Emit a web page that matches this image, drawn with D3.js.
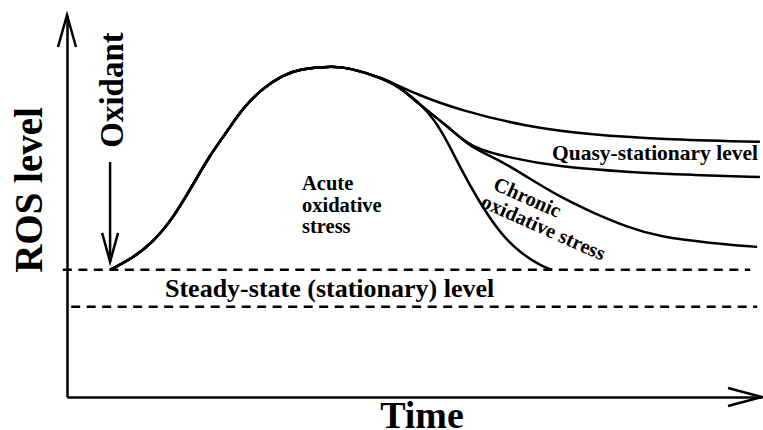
<!DOCTYPE html>
<html lang="en">
<head>
  <meta charset="UTF-8">
  <title>ROS level</title>
  <style>
    body { margin: 0; background: #fff; }
    svg { display: block; }
    text { font-family: "Liberation Serif", "Times New Roman", serif; font-weight: bold; fill: #000; }
  </style>
</head>
<body>
  <svg id="chart" width="763" height="430"></svg>
<script src="https://cdn.jsdelivr.net/npm/d3@7"></script>
<script>
  // time (0-100) vs ROS level (0-100)
  let rise = [[6.2, 33.3], [9.5, 36.4], [12.4, 40.6], [15.3, 46.9], [18.1, 55.5], [20.6, 63.4],
              [23.0, 69.4], [25.3, 75.7], [28.2, 80.9], [31.1, 84.3], [33.5, 85.9], [37.8, 86.6],
              [40.7, 86.2], [45.8, 83.2]]
  let quasyUpper = [[50.4, 79.1], [56.5, 75.1], [66.2, 70.7], [75.7, 68.6], [85.3, 67.5], [99.7, 66.8]]
  let middle = [[47.9, 81.2], [50.4, 77.0], [55.1, 70.4], [58.0, 65.4]]
  let quasyLower = [[63.7, 62.6], [70.9, 60.2], [80.6, 58.9], [90.1, 58.1], [99.7, 57.6]]
  let chronic = [[62.3, 62.0], [66.2, 57.6], [70.9, 52.4], [75.7, 48.2], [80.6, 44.5], [85.3, 41.9],
                 [92.5, 40.3], [99.3, 39.3]]
  let acute = [[47.9, 80.9], [51.2, 76.4], [54.1, 69.4], [56.5, 60.2], [59.4, 50.8], [62.3, 42.9],
               [65.2, 37.7], [68.5, 34.0], [69.8, 33.3]]
  let steadyLevels = [{y: 33.3, x0: -0.6, x1: 98.3}, {y: 23.6, x0: 0.6, x1: 99.3}]

  let svg = d3.select("#chart")
  svg.append("rect").attr("width", 763).attr("height", 430).attr("fill", "#fff")

  let x = d3.scaleLinear().domain([0, 100]).range([67, 762])
  let y = d3.scaleLinear().domain([0, 100]).range([397, 15])

  // axes without ticks, just the lines
  svg.append("g")
     .attr("transform", `translate(0,${y(0)})`)
     .call(d3.axisBottom(x).tickValues([]).tickSizeOuter(0))
     .select(".domain").attr("stroke-width", 2.5)
  svg.append("g")
     .attr("transform", `translate(${x(0)},0)`)
     .call(d3.axisLeft(y).tickValues([]).tickSizeOuter(0))
     .select(".domain").attr("stroke-width", 2.5)

  let arrows = svg.append("g").attr("fill", "none").attr("stroke", "#000").attr("stroke-width", 2.5)
  arrows.append("path").attr("d", `M${x(0) - 9},${y(100) + 32}L${x(0)},${y(100)}L${x(0) + 9},${y(100) + 32}`)
  arrows.append("path").attr("d", `M${x(100) - 34},${y(0) - 9}L${x(100)},${y(0)}L${x(100) - 34},${y(0) + 9}`)

  // oxidant arrow
  arrows.append("path").attr("d", `M${x(6.2)},162V${y(33.3) - 8}`)
  arrows.append("path").attr("d", `M${x(6.2) - 8},${y(33.3) - 37}L${x(6.2)},${y(33.3) - 8}L${x(6.2) + 8},${y(33.3) - 37}`)

  // dashed levels
  svg.append("g").selectAll("line")
     .data(steadyLevels)
     .enter()
     .append("line")
     .attr("x1", d => x(d.x0))
     .attr("x2", d => x(d.x1))
     .attr("y1", d => y(d.y))
     .attr("y2", d => y(d.y))
     .attr("stroke", "#000")
     .attr("stroke-width", 2.5)
     .attr("stroke-dasharray", "9,6.5")

  let line = d3.line().x(d => x(d[0])).y(d => y(d[1])).curve(d3.curveBasis)
  let curves = [
    rise.concat(quasyUpper),
    rise.concat(middle, quasyLower),
    rise.concat(middle, chronic),
    rise.concat(acute)
  ]
  svg.append("g").selectAll("path")
     .data(curves)
     .enter()
     .append("path")
     .attr("d", line)
     .attr("fill", "none")
     .attr("stroke", "#000")
     .attr("stroke-width", 2.5)

  // labels
  svg.append("text").attr("transform", "translate(42,190) rotate(-90)")
     .attr("text-anchor", "middle").attr("font-size", 39).text("ROS level")
  svg.append("text").attr("transform", "translate(123,90) rotate(-90)")
     .attr("text-anchor", "middle").attr("font-size", 33).text("Oxidant")
  svg.append("text").attr("x", 422).attr("y", 428)
     .attr("text-anchor", "middle").attr("font-size", 38).text("Time")
  svg.append("text").attr("x", 165).attr("y", 297)
     .attr("font-size", 26).text("Steady-state (stationary) level")
  svg.append("text").attr("x", 552).attr("y", 160)
     .attr("font-size", 21.5).text("Quasy-stationary level")

  let acuteText = svg.append("text").attr("font-size", 20.5)
  ;["Acute", "oxidative", "stress"].forEach((s, i) => {
    acuteText.append("tspan").attr("x", 302).attr("y", 190 + i * 21.5).text(s)
  })

  let chronicText = svg.append("text").attr("font-size", 20.5)
     .attr("transform", "translate(492,189) rotate(24)")
  chronicText.append("tspan").attr("x", 0).attr("y", 0).text("Chronic")
  chronicText.append("tspan").attr("x", -4).attr("y", 21).text("oxidative stress")
</script>
</body>
</html>
